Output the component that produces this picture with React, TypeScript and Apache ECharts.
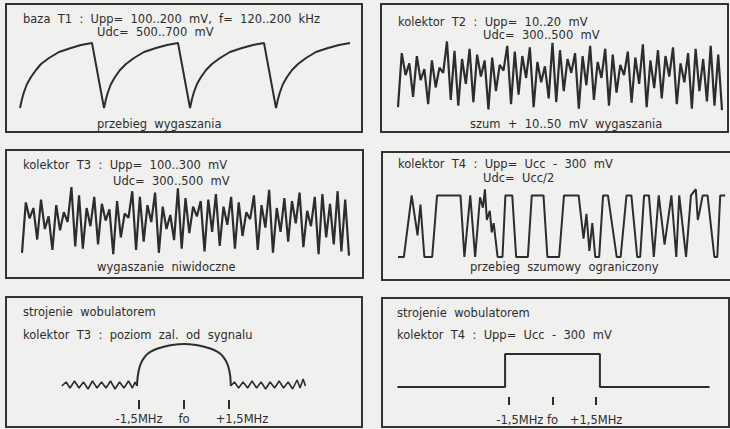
import React, { useEffect, useRef } from "react";
import * as echarts from "echarts";

const INK = "#2d2d2d";
const BG = "#f0f0ee";
const FONT = '"DejaVu Sans", sans-serif';
const FS = 11.5;

// Panel 1: baza T1 — decaying/charging waveform [time, level]
const bazaT1Wave: [number, number][] = [
  [0, 0], [2, 9], [4, 16], [7, 24], [11, 31], [16, 38], [21, 44], [29, 50], [39, 56], [51, 60], [61, 63], [72, 65],
  [84, 0], [86, 9], [88, 16], [91, 24], [95, 31], [100, 38], [106, 44], [114, 50], [124, 56], [136, 60], [147, 63], [158, 65],
  [170, 0], [172, 9], [174, 16], [177, 24], [181, 31], [186, 38], [192, 44], [200, 50], [210, 56], [222, 60], [233, 63], [244, 65],
  [256, 0], [258, 9], [260, 16], [263, 24], [267, 31], [272, 38], [278, 44], [286, 50], [296, 56], [308, 60], [319, 63], [330, 65],
];

// Panel 2: kolektor T2 — noise samples (0 = bottom, 100 = top)
const kolektorT2Noise = [
  8, 82, 52, 68, 22, 78, 45, 60, 12, 72, 35, 62, 55, 98, 18, 85, 10, 74, 40, 88, 15, 80, 50, 72, 5, 76, 30, 66, 58, 92,
  12, 84, 25, 78, 48, 90, 8, 70, 42, 64, 20, 96, 15, 86, 30, 74, 55, 82, 6, 78, 38, 92, 18, 70, 48, 88, 10, 80, 28, 66,
  52, 84, 14, 76, 40, 94, 8, 72, 34, 86, 20, 78, 50, 90, 12, 68, 42, 82, 6, 88, 30, 74, 16, 92, 10, 80, 4,
];

// Panel 3: kolektor T3 — noise samples
const kolektorT3Noise = [
  6, 78, 55, 70, 25, 82, 40, 58, 10, 74, 38, 64, 50, 100, 15, 88, 12, 70, 44, 86, 18, 76, 52, 68, 4, 80, 28, 62, 56, 94,
  10, 86, 22, 74, 50, 92, 6, 72, 40, 60, 24, 98, 12, 84, 34, 72, 58, 80, 8, 82, 36, 90, 16, 72, 46, 86, 12, 78, 30, 64,
  54, 88, 10, 74, 42, 96, 6, 70, 36, 84, 22, 80, 48, 92, 14, 66, 44, 86, 4, 90, 28, 76, 18, 94, 8, 82, 2,
];

// Panel 4: kolektor T4 — limited noise [time, level] (0 = low, 100 = high)
const kolektorT4Limited: [number, number][] = [
  [0, 0], [6, 0], [14, 100], [20, 35], [23, 85], [27, 0], [35, 0], [40, 100], [64, 100], [68, 0], [74, 100], [79, 0],
  [84, 97], [87, 80], [89, 110], [91, 60], [94, 75], [96, 40], [98, 55], [102, 0], [107, 0], [110, 100], [117, 100],
  [121, 0], [133, 0], [137, 100], [149, 100], [153, 0], [165, 0], [170, 100], [185, 100], [190, 30], [193, 70], [196, 10],
  [199, 55], [202, 0], [206, 0], [210, 100], [215, 100], [224, 0], [228, 0], [234, 100], [239, 100], [245, 0], [248, 0],
  [252, 100], [257, 100], [262, 0], [267, 100], [273, 20], [280, 100], [285, 0], [288, 100], [295, 0], [300, 100],
  [305, 110], [307, 60], [309, 75], [312, 100], [317, 100], [324, 0], [327, 0], [330, 100], [335, 100],
];

// Panel 5: wobulator response, kolektor T3 [MHz, level]
const t3NoiseLeft: [number, number][] = [
  [-4.07, 14], [-3.93, 18], [-3.8, 12], [-3.65, 19], [-3.5, 12], [-3.35, 18], [-3.2, 11], [-3.05, 19], [-2.9, 12],
  [-2.75, 18], [-2.6, 12], [-2.45, 19], [-2.3, 11], [-2.15, 18], [-2.0, 12], [-1.85, 19], [-1.72, 12], [-1.63, 18], [-1.57, 14],
];
const t3Passband: [number, number][] = [
  [-1.57, 14], [-1.54, 24], [-1.48, 33], [-1.38, 40], [-1.22, 46], [-1.0, 50], [-0.7, 53], [-0.4, 55], [0, 56],
  [0.4, 55], [0.7, 53], [1.0, 50], [1.22, 46], [1.38, 40], [1.48, 33], [1.54, 24], [1.56, 14],
];
const t3NoiseRight: [number, number][] = [
  [1.56, 14], [1.68, 18], [1.82, 12], [1.97, 18], [2.12, 12], [2.27, 19], [2.42, 12], [2.57, 18], [2.72, 11], [2.87, 18],
  [3.02, 12], [3.17, 19], [3.32, 12], [3.47, 18], [3.62, 11], [3.77, 20], [3.87, 12], [3.97, 21], [4.05, 14],
];

// Panel 6: wobulator response, kolektor T4 [MHz, level]
const t4Pulse: [number, number][] = [
  [-5.33, 10], [-1.63, 10], [-1.63, 43], [1.63, 43], [1.63, 10], [5.4, 10],
];

const freqMarks = [-1.5, 0, 1.5];

const line = (xi: number, data: any[], extra: any = {}) => ({
  type: "line",
  xAxisIndex: xi,
  yAxisIndex: xi,
  data,
  showSymbol: false,
  symbol: "none",
  silent: true,
  lineStyle: { color: INK, width: 2 },
  ...extra,
});

const tickMarks = (len: number) => ({
  silent: true,
  symbol: ["none", "none"],
  label: { show: false },
  lineStyle: { color: INK, width: 2, type: "solid" },
  data: freqMarks.map((f) => [{ coord: [f, 0] }, { coord: [f, -len] }]),
});

const txt = (text: string, x: number, baseline: number) => ({
  type: "text",
  x,
  y: baseline - 4,
  silent: true,
  style: {
    text,
    fill: INK,
    font: `${FS}px ${FONT}`,
    align: "left",
    verticalAlign: "middle",
  },
});

const frame = (x: number, y: number, w: number, h: number) => ({
  type: "rect",
  silent: true,
  shape: { x, y, width: w, height: h },
  style: { fill: "none", stroke: "#333", lineWidth: 2 },
});

const hiddenAxis = (gi: number, extra: any) => ({
  gridIndex: gi,
  show: false,
  splitLine: { show: false },
  ...extra,
});

const freqAxis = (gi: number, min: number, max: number, leftPad: number, rightPad: number) => ({
  gridIndex: gi,
  type: "value",
  min,
  max,
  interval: 1.5,
  axisLine: { show: false },
  axisTick: { show: false },
  splitLine: { show: false },
  axisLabel: {
    show: true,
    margin: 3,
    color: INK,
    fontFamily: FONT,
    fontSize: FS,
    showMinLabel: true,
    showMaxLabel: true,
    formatter: (v: number) => {
      if (Math.abs(v + 1.5) < 1e-6) return "{l|-1,5MHz}";
      if (Math.abs(v) < 1e-6) return "{c|fo}";
      if (Math.abs(v - 1.5) < 1e-6) return "{r|+1,5MHz}";
      return "";
    },
    rich: {
      l: { fontFamily: FONT, fontSize: FS, color: INK, padding: [0, 0, 0, leftPad] },
      c: { fontFamily: FONT, fontSize: FS, color: INK },
      r: { fontFamily: FONT, fontSize: FS, color: INK, padding: [0, 0, 0, rightPad] },
    },
  },
});

export default function App() {
  const ref = useRef<HTMLDivElement>(null);
  useEffect(() => {
    if (!ref.current) return;
    const chart = echarts.init(ref.current, undefined, { renderer: "svg" });
    const option: any = {
      animation: false,
      backgroundColor: BG,
      grid: [
        { left: 20, top: 43, width: 330, height: 65 },
        { left: 398, top: 40, width: 324, height: 73 },
        { left: 22, top: 187, width: 327, height: 70 },
        { left: 398, top: 188, width: 340, height: 69 },
        { left: 49, top: 338, width: 270, height: 72 },
        { left: 378, top: 340, width: 360, height: 71 },
      ],
      xAxis: [
        hiddenAxis(0, { type: "value", min: 0, max: 330 }),
        hiddenAxis(1, { type: "category", boundaryGap: false, data: kolektorT2Noise.map((_, i) => i) }),
        hiddenAxis(2, { type: "category", boundaryGap: false, data: kolektorT3Noise.map((_, i) => i) }),
        hiddenAxis(3, { type: "value", min: 0, max: 340 }),
        freqAxis(4, -4.5, 4.5, 0, 26),
        freqAxis(5, -6, 6, 22, 0),
      ],
      yAxis: [
        hiddenAxis(0, { type: "value", min: 0, max: 65 }),
        hiddenAxis(1, { type: "value", min: 0, max: 100 }),
        hiddenAxis(2, { type: "value", min: 0, max: 100 }),
        hiddenAxis(3, { type: "value", min: 0, max: 112 }),
        hiddenAxis(4, { type: "value", min: -10, max: 62 }),
        hiddenAxis(5, { type: "value", min: -14, max: 57 }),
      ],
      series: [
        line(0, bazaT1Wave),
        line(1, kolektorT2Noise, { lineStyle: { color: INK, width: 2.2 } }),
        line(2, kolektorT3Noise, { lineStyle: { color: INK, width: 2.2 } }),
        line(3, kolektorT4Limited),
        line(4, t3NoiseLeft, { lineStyle: { color: INK, width: 1.6 } }),
        line(4, t3Passband, { smooth: 0.3, markLine: tickMarks(9) }),
        line(4, t3NoiseRight, { lineStyle: { color: INK, width: 1.6 } }),
        line(5, t4Pulse, { markLine: tickMarks(8) }),
      ],
      graphic: [
        frame(6, 4, 356, 128),
        frame(381, 4, 347, 128),
        frame(6, 150, 357, 128),
        frame(382, 152, 360, 128),
        frame(6, 297, 356, 130),
        frame(382, 298, 347, 129),
        txt("baza  T1  :  Upp=  100..200  mV,  f=  120..200  kHz", 23, 22.5),
        txt("Udc=  500..700  mV", 97, 35.5),
        txt("przebieg  wygaszania", 97, 128),
        txt("kolektor  T2  :  Upp=  10..20  mV", 398, 25.5),
        txt("Udc=  300..500  mV", 483, 39),
        txt("szum  +  10..50  mV  wygaszania", 470, 128),
        txt("kolektor  T3  :  Upp=  100..300  mV", 23, 169),
        txt("Udc=  300..500  mV", 113, 185),
        txt("wygaszanie  niwidoczne", 97, 271),
        txt("kolektor  T4  :  Upp=  Ucc  -  300  mV", 398, 168),
        txt("Udc=  Ucc/2", 483, 181.5),
        txt("przebieg  szumowy  ograniczony", 470, 271),
        txt("strojenie  wobulatorem", 23, 316),
        txt("kolektor  T3  :  poziom  zal.  od  sygnalu", 23, 339),
        txt("strojenie  wobulatorem", 397, 317),
        txt("kolektor  T4  :  Upp=  Ucc  -  300  mV", 397, 339),
      ],
    };
    chart.setOption(option);
    return () => chart.dispose();
  }, []);
  return (
    <div
      ref={ref}
      style={{ position: "fixed", left: 0, top: 0, width: 730, height: 429 }}
    />
  );
}
